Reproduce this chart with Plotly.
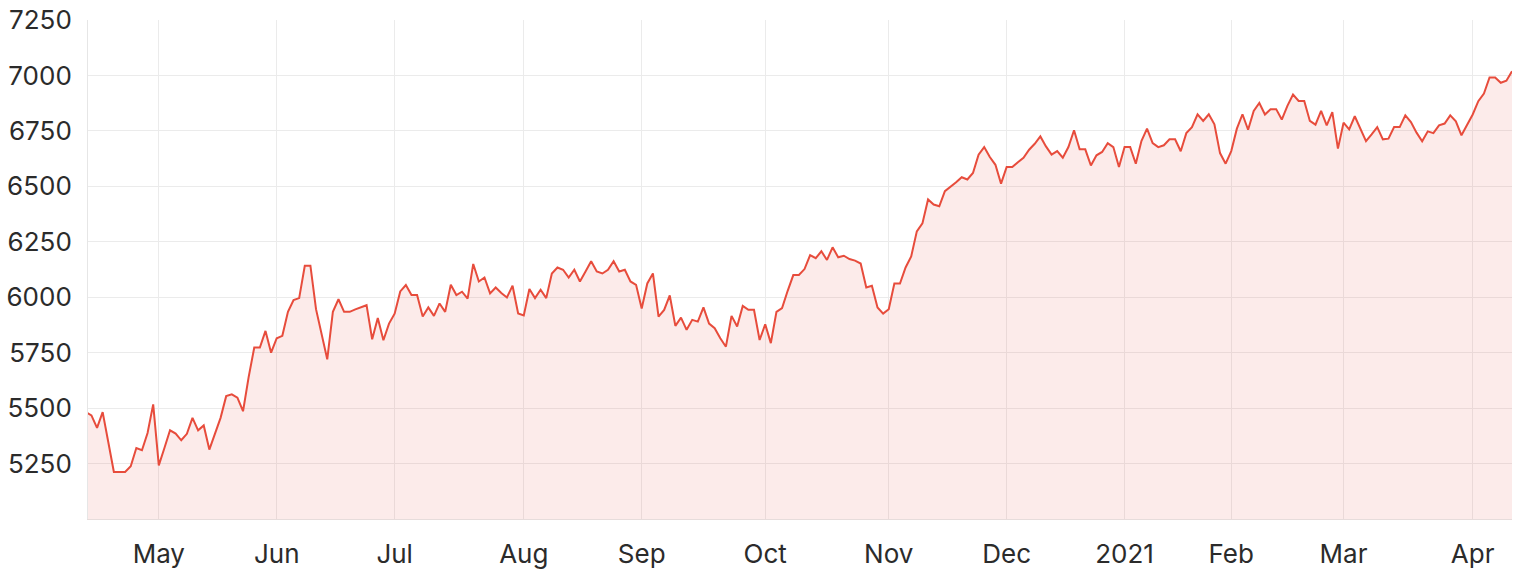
import pandas as pd
import plotly.graph_objects as go

# ---- data ----
holidays = ["2020-06-08", "2020-12-25", "2020-12-28", "2021-01-01",
            "2021-01-26", "2021-04-02", "2021-04-05"]
trading_days = [d.strftime("%Y-%m-%d") for d in pd.bdate_range("2020-04-14", "2021-04-14")
                if d.strftime("%Y-%m-%d") not in holidays]

values = [
    5482, 5467, 5411, 5482, 5347, 5212, 5212, 5212, 5238, 5320,
    5310, 5388, 5517, 5242, 5320, 5400, 5385, 5355, 5384, 5456,
    5400, 5422, 5313, 5381, 5456, 5554, 5562, 5547, 5486, 5640,
    5773, 5773, 5848, 5750, 5815, 5826, 5934, 5987, 5996, 6142,
    6142, 5946, 5835, 5720, 5934, 5991, 5934, 5934, 5945, 5955,
    5964, 5810, 5906, 5806, 5881, 5926, 6026, 6055, 6010, 6010,
    5913, 5954, 5916, 5972, 5934, 6056, 6010, 6025, 5994, 6150,
    6071, 6089, 6017, 6044, 6019, 5999, 6052, 5927, 5918, 6037,
    5996, 6034, 5996, 6107, 6134, 6124, 6089, 6124, 6071, 6116,
    6162, 6116, 6107, 6124, 6162, 6116, 6124, 6071, 6056, 5949,
    6062, 6107, 5913, 5943, 6008, 5871, 5908, 5853, 5898, 5890,
    5954, 5881, 5860, 5815, 5777, 5916, 5868, 5961, 5943, 5943,
    5807, 5878, 5793, 5934, 5951, 6029, 6100, 6100, 6127, 6190,
    6176, 6207, 6168, 6225, 6180, 6187, 6172, 6165, 6152, 6044,
    6052, 5954, 5926, 5946, 6062, 6062, 6134, 6184, 6297, 6333,
    6441, 6418, 6410, 6478, 6496, 6518, 6541, 6531, 6560, 6643,
    6677, 6632, 6597, 6512, 6587, 6587, 6609, 6629, 6665, 6692,
    6725, 6680, 6643, 6659, 6629, 6677, 6753, 6667, 6667, 6594,
    6640, 6655, 6695, 6677, 6587, 6677, 6677, 6602, 6704, 6760,
    6695, 6677, 6685, 6712, 6712, 6658, 6740, 6767, 6825, 6795,
    6825, 6780, 6650, 6602, 6659, 6760, 6825, 6755, 6840, 6876,
    6824, 6848, 6848, 6801, 6863, 6914, 6885, 6885, 6795, 6778,
    6840, 6775, 6835, 6670, 6787, 6757, 6816, 6760, 6704, 6734,
    6767, 6712, 6715, 6767, 6767, 6820, 6790, 6742, 6703, 6748,
    6740, 6775, 6783, 6820, 6793, 6730, 6778, 6824, 6884, 6918,
    6991, 6991, 6967, 6976, 7019,
]

tick_dates = ["2020-05-01", "2020-06-01", "2020-07-01", "2020-08-03", "2020-09-01",
              "2020-10-01", "2020-11-02", "2020-12-01", "2021-01-04", "2021-02-01",
              "2021-03-01", "2021-04-01"]
tick_labels = ["May", "Jun", "Jul", "Aug", "Sep", "Oct", "Nov", "Dec", "2021",
               "Feb", "Mar", "Apr"]
y_ticks = [5250, 5500, 5750, 6000, 6250, 6500, 6750, 7000, 7250]

# ---- figure ----
fig = go.Figure(
    go.Scatter(
        x=trading_days, y=values, mode="lines",
        line=dict(color="#e74c3c", width=2),
        fill="tozeroy", fillcolor="rgba(231,76,60,0.11)",
        hoverinfo="x+y",
    )
)

font_family = "Inter, Open Sans, sans-serif"
fig.update_layout(
    width=1522, height=576,
    margin=dict(l=88, r=10, t=20, b=57),
    plot_bgcolor="white", paper_bgcolor="white",
    showlegend=False,
    font=dict(family=font_family, size=26, color="#2b2b2b"),
)
fig.update_xaxes(
    type="category",
    range=[0.39, 254],
    tickmode="array", tickvals=tick_dates, ticktext=tick_labels,
    showgrid=True, gridcolor="#ebebeb", gridwidth=1,
    showline=True, linecolor="#e6dcdb", linewidth=1,
    ticks="", ticklabelstandoff=12,
    tickangle=0, automargin=False,
)
fig.update_yaxes(
    range=[5000, 7250],
    tickmode="array", tickvals=y_ticks,
    showgrid=True, gridcolor="#ebebeb", gridwidth=1,
    showline=True, linecolor="#e6e6e6", linewidth=1,
    ticks="", ticklabelstandoff=10,
    zeroline=False, automargin=False,
)

fig.write_html("out.html", config={"displayModeBar": False},
               post_script="document.body.style.margin='0';")
